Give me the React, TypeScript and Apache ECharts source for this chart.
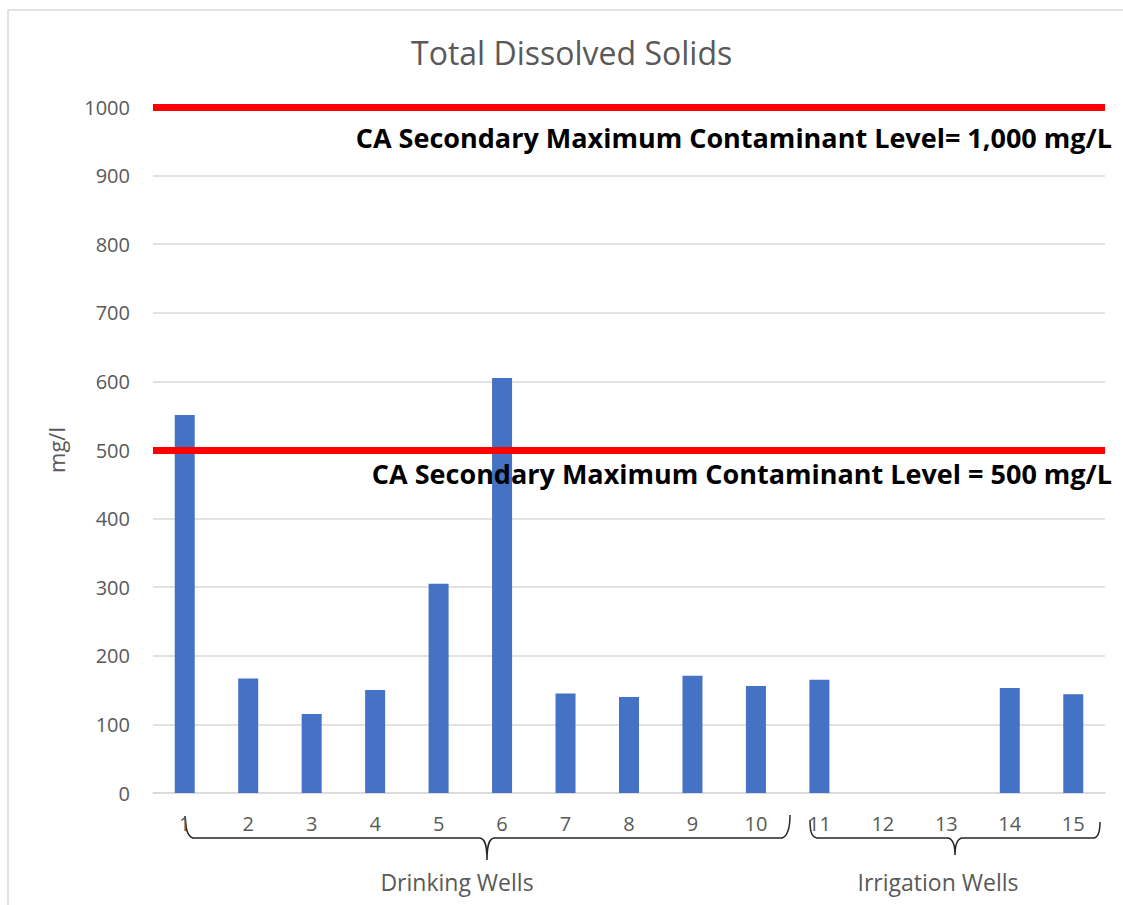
import React, { useEffect, useRef } from "react";
import * as echarts from "echarts";

const categories = ["1", "2", "3", "4", "5", "6", "7", "8", "9", "10", "11", "12", "13", "14", "15"];
const tdsValues: (number | null)[] = [551, 167, 115, 150, 305, 605, 145, 140, 171, 156, 165, null, null, 153, 144];
const limits = [
  { value: 1000, label: "CA Secondary Maximum Contaminant Level= 1,000 mg/L", gap: 17 },
  { value: 500, label: "CA Secondary Maximum Contaminant Level = 500 mg/L", gap: 10 },
];
const groupLabels = ["Drinking Wells", "Irrigation Wells"];

const braceDrink =
  "M185,816 C186,826 186,836 193,838 L480,838 C485,839 487,845 487,860 C487,845 489,839 494,838 L782,838 C788,836 790,826 790,815";
const braceIrr =
  "M810,820 C810,830 811,837 817,838 L948,838 C953,839 955,845 955,855 C955,845 957,839 962,838 L1094,838 C1099,837 1100,830 1100,822";

let registered = false;
function registerShapes() {
  if (registered) return;
  echarts.graphic.registerShape("braceDrink", echarts.graphic.extendPath(braceDrink, {}) as any);
  echarts.graphic.registerShape("braceIrr", echarts.graphic.extendPath(braceIrr, {}) as any);
  registered = true;
}

export default function App() {
  const ref = useRef<HTMLDivElement>(null);
  useEffect(() => {
    document.body.style.margin = "0";
    registerShapes();
    const chart = echarts.init(ref.current!, undefined, { renderer: "svg" });
    const gray = "#595959";
    const font = "'Open Sans', sans-serif";
    chart.setOption({
      animation: false,
      backgroundColor: "#ffffff",
      title: {
        text: "Total Dissolved Solids",
        left: 406,
        top: 31,
        padding: 5,
        textStyle: { color: gray, fontSize: 32, fontWeight: "normal", fontFamily: font },
      },
      grid: { left: 153, right: 18, top: 107, bottom: 112 },
      xAxis: {
        type: "category",
        data: categories,
        axisLine: { show: true, lineStyle: { color: "#d9d9d9", width: 1.5 } },
        axisTick: { show: false },
        axisLabel: { color: gray, fontSize: 20, fontFamily: font, margin: 20 },
      },
      yAxis: {
        type: "value",
        min: 0,
        max: 1000,
        interval: 100,
        name: "mg/l",
        nameLocation: "middle",
        nameRotate: 90,
        nameGap: 86,
        nameTextStyle: { color: gray, fontSize: 22, fontFamily: font },
        axisLine: { show: false },
        axisTick: { show: false },
        axisLabel: { color: gray, fontSize: 20, fontFamily: font, margin: 23, formatter: (v: number) => String(v) },
        splitLine: { lineStyle: { color: "#d9d9d9", width: 1.5 } },
      },
      series: [
        {
          type: "bar",
          data: tdsValues,
          barWidth: 20,
          itemStyle: { color: "#4472C4" },
          markLine: {
            silent: true,
            symbol: "none",
            lineStyle: { color: "#ff0000", width: 7, type: "solid" },
            label: {
              show: true,
              position: "insideEndBottom",
              color: "#000000",
              fontSize: 27,
              fontWeight: "bold",
              fontFamily: font,
            },
            data: limits.map((l) => ({
              yAxis: l.value,
              label: { formatter: l.label, distance: [-7, l.gap] },
            })),
          },
        },
      ],
      graphic: [
        { type: "line", shape: { x1: 8, y1: 10, x2: 8, y2: 905 }, style: { stroke: "#d9d9d9", lineWidth: 1.5 } },
        { type: "line", shape: { x1: 8, y1: 10, x2: 1123, y2: 10 }, style: { stroke: "#d9d9d9", lineWidth: 1.5 } },
        { type: "braceDrink", x: 0, y: 0, style: { fill: "none", stroke: "#262626", lineWidth: 1.5 } },
        { type: "braceIrr", x: 0, y: 0, style: { fill: "none", stroke: "#262626", lineWidth: 1.5 } },
        {
          type: "text",
          x: 457,
          y: 882,
          style: { text: groupLabels[0], fill: gray, fontSize: 23, fontFamily: font, align: "center", verticalAlign: "middle" },
        },
        {
          type: "text",
          x: 938,
          y: 882,
          style: { text: groupLabels[1], fill: gray, fontSize: 23, fontFamily: font, align: "center", verticalAlign: "middle" },
        },
      ],
    });
    return () => chart.dispose();
  }, []);
  return <div ref={ref} style={{ width: 1123, height: 905 }} />;
}
